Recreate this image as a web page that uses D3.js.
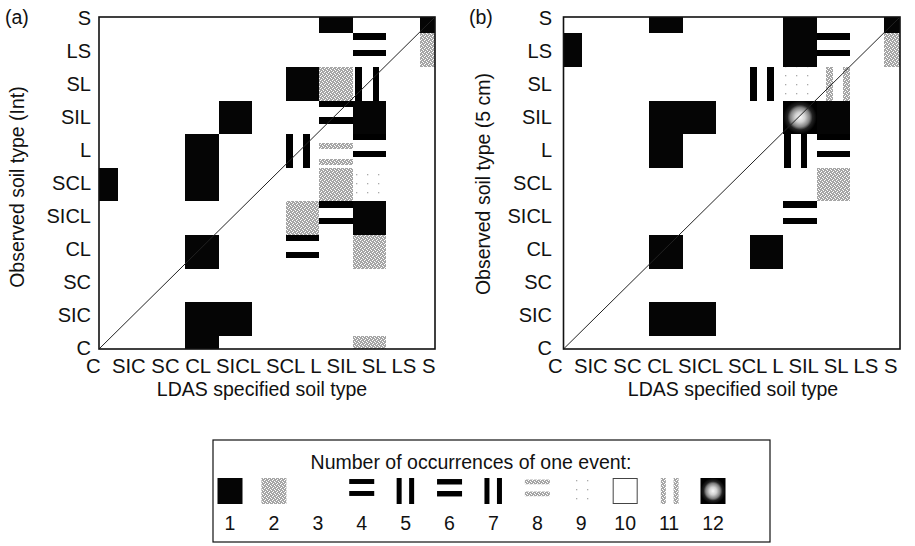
<!DOCTYPE html>
<html><head><meta charset="utf-8">
<script src="https://cdn.jsdelivr.net/npm/d3@7"></script>
<style>
body{margin:0;background:#fff}
text{font-family:"Liberation Sans",Arial,Helvetica,sans-serif;fill:#111}
</style>
</head><body>
<svg id="chart" width="915" height="546"></svg>
<script>
// ---------------- data ----------------
const soilTypes = ["C","SIC","SC","CL","SICL","SCL","L","SIL","SL","LS","S"];
const legendCounts = [1,2,3,4,5,6,7,8,9,10,11,12];
const legendTitle = "Number of occurrences of one event:";
const xAxisTitle = "LDAS specified soil type";
const yTitleInt = "Observed soil type (Int)";
const yTitle5cm = "Observed soil type (5 cm)";
const panelLabels = ["(a)","(b)"];

// [LDAS specified type, observed type, number of occurrences]
const eventsInt = [
  ["SIL","S",1],["S","S",1],
  ["SL","LS",4],["S","LS",2],
  ["L","SL",1],["SIL","SL",2],["SL","SL",7],
  ["SICL","SIL",1],["SIL","SIL",4],["SL","SIL",1],
  ["CL","L",1],["L","L",5],["SIL","L",8],["SL","L",4],
  ["C","SCL",1],["CL","SCL",1],["SIL","SCL",2],["SL","SCL",9],
  ["L","SICL",2],["SIL","SICL",4],["SL","SICL",1],
  ["CL","CL",1],["L","CL",4],["SL","CL",2],
  ["CL","SIC",1],["SICL","SIC",1],
  ["CL","C",1],["SL","C",2]
];
const events5cm = [
  ["CL","S",1],["SIL","S",1],["S","S",1],
  ["C","LS",1],["SIL","LS",1],["SL","LS",4],["S","LS",2],
  ["L","SL",5],["SIL","SL",9],["SL","SL",11],
  ["CL","SIL",1],["SICL","SIL",1],["SIL","SIL",12],["SL","SIL",1],
  ["CL","L",1],["SIL","L",5],["SL","L",4],
  ["SL","SCL",2],
  ["SIL","SICL",4],
  ["CL","CL",1],["L","CL",1],
  ["CL","SIC",1],["SICL","SIC",1]
];

// ---------------- styles ----------------
const svg = d3.select("#chart");
const FS = 19.5;
const defs = svg.append("defs");

const stip = defs.append("pattern").attr("id","stipple").attr("patternUnits","userSpaceOnUse")
  .attr("width",4).attr("height",4);
stip.append("rect").attr("width",4).attr("height",4).attr("fill","#a6a6a6");
[[0,0],[2,1],[1,3],[3,2]].forEach(p=>stip.append("rect").attr("x",p[0]).attr("y",p[1]).attr("width",1).attr("height",1).attr("fill","#fff"));

const sparse = defs.append("pattern").attr("id","sparse").attr("patternUnits","userSpaceOnUse")
  .attr("width",11).attr("height",9);
sparse.append("rect").attr("width",11).attr("height",9).attr("fill","#fff");
sparse.append("rect").attr("x",4).attr("y",3).attr("width",1.3).attr("height",1.3).attr("fill","#aaa");

const glow = defs.append("radialGradient").attr("id","glow").attr("cx","50%").attr("cy","50%").attr("r","50%");
[["0%","#f8f8f8"],["30%","#d0d0d0"],["58%","#808080"],["75%","#222"],["100%","#000"]]
  .forEach(s=>glow.append("stop").attr("offset",s[0]).attr("stop-color",s[1]));

const barStyle = {
  4:{dir:"h",a:0.00,b:0.50,t:0.19,fill:"#000"},
  6:{dir:"h",a:0.02,b:0.52,t:0.21,fill:"#000"},
  5:{dir:"v",a:0.02,b:0.52,t:0.20,fill:"#000"},
  7:{dir:"v",a:0.08,b:0.60,t:0.20,fill:"#000"},
  8:{dir:"h",a:0.27,b:0.75,t:0.18,fill:"url(#stipple)"},
  11:{dir:"v",a:0.28,b:0.79,t:0.20,fill:"url(#stipple)"}
};
const legendBar = {
  4:{a:0.04,b:0.50}, 6:{a:0.04,b:0.50}, 8:{a:0.06,b:0.52},
  5:{a:0.14,b:0.64}, 7:{a:0.14,b:0.64}, 11:{a:0.17,b:0.68}
};

function drawSymbol(g, n, cx, cy, w, h, legend) {
  const x = cx - w/2, y = cy - h/2;
  if (n === 1) g.append("rect").attr("x",x).attr("y",y).attr("width",w).attr("height",h).attr("fill","#050505");
  else if (n === 2) g.append("rect").attr("x",x).attr("y",y).attr("width",w).attr("height",h).attr("fill","url(#stipple)");
  else if (n === 9) g.append("rect").attr("x",x).attr("y",y).attr("width",w).attr("height",h).attr("fill","url(#sparse)");
  else if (n === 10) g.append("rect").attr("x",x+0.5).attr("y",y+0.5).attr("width",w-1).attr("height",h-1)
      .attr("fill","#fff").attr("stroke","#444").attr("stroke-width",1);
  else if (n === 12) g.append("rect").attr("x",x).attr("y",y).attr("width",w).attr("height",h).attr("fill","url(#glow)");
  else if (barStyle[n]) {
    const s = Object.assign({}, barStyle[n], legend ? legendBar[n] : {});
    [s.a, s.b].forEach(o => {
      if (s.dir === "h")
        g.append("rect").attr("x",x).attr("y",y+o*h).attr("width",w).attr("height",s.t*h).attr("fill",s.fill);
      else
        g.append("rect").attr("x",x+o*w).attr("y",y).attr("width",s.t*w).attr("height",h).attr("fill",s.fill);
    });
  }
}

// ---------------- panels ----------------
const panels = [
  {id:"a", label:panelLabels[0], events:eventsInt, yTitle:yTitleInt,
   frame:{x0:99,x1:435,y0:17,y1:349}, cellX:[101.25,436.25], labelX:91, labelPos:[5,24],
   yTitleX:17, yTitleY:187, xTextX:86, xTitleX:262},
  {id:"b", label:panelLabels[1], events:events5cm, yTitle:yTitle5cm,
   frame:{x0:563.5,x1:900,y0:17,y1:349}, cellX:[565.5,900.5], labelX:552, labelPos:[469,24],
   yTitleX:483, yTitleY:184, xTextX:548, xTitleX:733}
];

panels.forEach(p => {
  const f = p.frame;
  const g = svg.append("g");
  const xCell = d3.scalePoint(soilTypes, p.cellX);
  const yCell = d3.scalePoint(soilTypes, [352.5, 16.5]);
  const cw = xCell.step(), ch = yCell.step();

  defs.append("clipPath").attr("id","clip-"+p.id).append("rect")
    .attr("x",f.x0).attr("y",f.y0).attr("width",f.x1-f.x0).attr("height",f.y1-f.y0);

  const cells = g.append("g").attr("clip-path","url(#clip-"+p.id+")").attr("shape-rendering","crispEdges");
  p.events.forEach(e => drawSymbol(cells, e[2], xCell(e[0]), yCell(e[1]), cw, ch, false));

  // diagonal 1:1 line
  const xd = d3.scaleLinear().domain([0,1]).range([f.x0,f.x1]);
  const yd = d3.scaleLinear().domain([0,1]).range([f.y1,f.y0]);
  g.append("line").attr("x1",xd(0)).attr("y1",yd(0)).attr("x2",xd(1)).attr("y2",yd(1))
    .attr("stroke","#222").attr("stroke-width",1);

  // frame
  g.append("rect").attr("x",f.x0).attr("y",f.y0).attr("width",f.x1-f.x0).attr("height",f.y1-f.y0)
    .attr("fill","none").attr("stroke","#111").attr("stroke-width",1.6);

  // y axis labels
  const yLab = d3.scalePoint(soilTypes, [347, 17]);
  const ax = g.append("g").attr("transform",`translate(${p.labelX},0)`)
    .call(d3.axisLeft(yLab).tickSize(0).tickPadding(0));
  ax.select(".domain").remove();
  ax.selectAll("text").attr("font-size",20).attr("fill","#111")
    .style("font-family",'"Liberation Sans",Arial,sans-serif').attr("dy","0.36em");

  // x labels (set as one line of text, as in the original)
  g.append("text").attr("x",p.xTextX).attr("y",373).attr("font-size",20.3)
    .style("white-space","pre")
    .text(soilTypes[0] + "  " + soilTypes.slice(1).join(" "));

  // axis titles
  g.append("text").attr("x",p.xTitleX).attr("y",396).attr("text-anchor","middle").attr("font-size",FS)
    .text(xAxisTitle);
  g.append("text").attr("transform",`translate(${p.yTitleX},${p.yTitleY}) rotate(-90)`)
    .attr("text-anchor","middle").attr("dy","0.36em").attr("font-size",FS).text(p.yTitle);
  g.append("text").attr("x",p.labelPos[0]).attr("y",p.labelPos[1]).attr("font-size",FS).text(p.label);
});

// ---------------- legend ----------------
const lg = svg.append("g");
lg.append("rect").attr("x",213).attr("y",440).attr("width",557).attr("height",102)
  .attr("fill","none").attr("stroke","#111").attr("stroke-width",1.2);
lg.append("text").attr("x",471).attr("y",469).attr("text-anchor","middle").attr("font-size",FS).text(legendTitle);
const lx = d3.scalePoint(legendCounts, [230, 713]);
legendCounts.forEach(n => {
  drawSymbol(lg, n, lx(n), 491, 25, 26, true);
  lg.append("text").attr("x",lx(n)).attr("y",530).attr("text-anchor","middle").attr("font-size",FS).text(n);
});
</script>
</body></html>
